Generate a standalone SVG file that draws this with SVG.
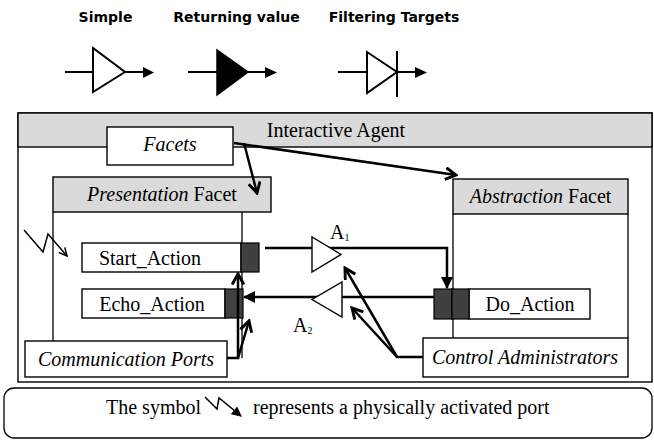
<svg xmlns="http://www.w3.org/2000/svg" width="654" height="441" viewBox="0 0 654 441">
<style>
.t{font-family:"Liberation Serif","Times New Roman",serif;font-size:20px;fill:#000}
.i{font-style:italic}
.h{font-family:"DejaVu Sans",Verdana,sans-serif;font-weight:bold;font-size:14px;fill:#000}
.box{fill:#fff;stroke:#000;stroke-width:1.4}
.hdr{fill:#dadada;stroke:#000;stroke-width:1.4}
.port{fill:#404040;stroke:#000;stroke-width:1.2}
.ln{stroke:#000;stroke-width:1.3;fill:none}
.c{stroke:#000;stroke-width:2.5;fill:none}
.sym{stroke:#000;stroke-width:2;fill:none}
</style>
<defs>
<marker id="open" markerUnits="userSpaceOnUse" markerWidth="14" markerHeight="14" viewBox="0 0 12 12" refX="10" refY="6" orient="auto"><path d="M1,1 L10,6 L1,11" fill="none" stroke="#000" stroke-width="2.5"/></marker>
<marker id="fill" markerUnits="userSpaceOnUse" markerWidth="12" markerHeight="12" viewBox="0 0 12 12" refX="11" refY="6" orient="auto"><path d="M0,0 L12,6 L0,12 z" fill="#000"/></marker>
<marker id="thin" markerUnits="userSpaceOnUse" markerWidth="10" markerHeight="10" viewBox="0 0 10 10" refX="9" refY="5" orient="auto"><path d="M1,1 L9,5 L1,9" fill="none" stroke="#000" stroke-width="1.5"/></marker>
<marker id="thinfill" markerUnits="userSpaceOnUse" markerWidth="10" markerHeight="10" viewBox="0 0 10 10" refX="9" refY="5" orient="auto"><path d="M0,0 L10,5 L0,10 z" fill="#000"/></marker>
</defs>

<g id="legend-top">
<text class="h" x="105.5" y="22" text-anchor="middle">Simple</text>
<text class="h" x="236.5" y="22" text-anchor="middle">Returning value</text>
<text class="h" x="394" y="22" text-anchor="middle">Filtering Targets</text>
<g id="sym-simple">
<line class="sym" x1="65" y1="72" x2="93" y2="72"/>
<polygon points="93,48 93,92 125,72" fill="#fff" stroke="#000" stroke-width="2"/>
<line class="sym" x1="125" y1="72" x2="144" y2="72"/>
<polygon points="143,67 154,72.5 143,78" fill="#000"/>
</g>
<g id="sym-returning">
<line class="sym" x1="188" y1="72" x2="217" y2="72"/>
<polygon points="217,50 217,95 248,72" fill="#000" stroke="#000" stroke-width="1.5"/>
<line class="sym" x1="248" y1="72" x2="266" y2="72"/>
<polygon points="265,67 277,72.5 265,78" fill="#000"/>
</g>
<g id="sym-filtering">
<line class="sym" x1="338" y1="72" x2="367" y2="72"/>
<polygon points="367,52 367,93 397,72" fill="#fff" stroke="#000" stroke-width="2"/>
<line class="sym" x1="397" y1="51" x2="397" y2="97"/>
<line class="sym" x1="397" y1="72" x2="416" y2="72"/>
<polygon points="415,67 427,72.5 415,78" fill="#000"/>
</g>
</g>

<g id="interactive-agent">
<rect class="box" x="18" y="113" width="634" height="269"/>
<rect class="hdr" x="18" y="113" width="634" height="34"/>
<text class="t" x="336" y="137" text-anchor="middle">Interactive Agent</text>
</g>

<g id="presentation-facet">
<rect class="hdr" x="53" y="177" width="218" height="35"/>
<text class="t" x="162" y="201" text-anchor="middle"><tspan class="i">Presentation</tspan> Facet</text>
<line class="ln" x1="53" y1="212" x2="53" y2="341"/>
<line class="ln" x1="242" y1="212" x2="242" y2="358"/>
</g>

<g id="abstraction-facet">
<rect class="hdr" x="453" y="179" width="175" height="35"/>
<text class="t" x="540.5" y="203" text-anchor="middle"><tspan class="i">Abstraction</tspan> Facet</text>
<line class="ln" x1="453" y1="214" x2="453" y2="338"/>
<line class="ln" x1="628" y1="214" x2="628" y2="338"/>
</g>

<g id="facets">
<rect class="box" x="107" y="127" width="126" height="38"/>
<text class="t i" x="170" y="151" text-anchor="middle">Facets</text>
</g>

<g id="start-action">
<rect class="box" x="82" y="243" width="159" height="29"/>
<text class="t" x="150" y="265" text-anchor="middle">Start_Action</text>
<rect class="port" x="241" y="243" width="18" height="29"/>
</g>

<g id="echo-action">
<rect class="box" x="82" y="289" width="143" height="29"/>
<text class="t" x="152" y="311" text-anchor="middle">Echo_Action</text>
<rect class="port" x="225" y="289" width="18" height="29"/>
</g>

<g id="do-action">
<rect class="box" x="469" y="289" width="121" height="30"/>
<text class="t" x="530" y="311" text-anchor="middle">Do_Action</text>
<rect class="port" x="434" y="289" width="18" height="30"/>
<rect class="port" x="452" y="289" width="17" height="30"/>
</g>

<g id="communication-ports">
<rect class="box" x="25" y="341" width="202" height="36"/>
<text class="t i" x="126" y="366" text-anchor="middle">Communication Ports</text>
</g>

<g id="control-administrators">
<rect class="box" x="423" y="338" width="205" height="39"/>
<text class="t i" x="525" y="364" text-anchor="middle">Control Administrators</text>
</g>

<g id="connectors">
<path class="c" d="M234,143 L456,175" marker-end="url(#open)"/>
<path class="c" d="M244,143 L257,193" marker-end="url(#open)"/>
<path class="c" d="M265,248 L447,248 L447,288" marker-end="url(#fill)"/>
<polygon points="312,237 312,272 341,254.5" fill="#fff" stroke="#000" stroke-width="1.4"/>
<text class="t" x="330" y="239" font-size="14">A<tspan font-size="10" dy="2">1</tspan></text>
<path class="c" d="M434,297 L244,297" marker-end="url(#fill)"/>
<polygon points="342,282 342,317 312,299.5" fill="#fff" stroke="#000" stroke-width="1.4"/>
<text class="t" x="293" y="332" font-size="14">A<tspan font-size="10" dy="2">2</tspan></text>
<path class="c" d="M423,357 L397,357 L345,268" marker-end="url(#open)"/>
<path class="c" d="M397,357 L352,308" marker-end="url(#open)"/>
<path class="c" d="M227,358 L238,358 L238,274" marker-end="url(#open)"/>
<path class="c" d="M238,358 L249,321" marker-end="url(#open)"/>
<path d="M24,230 L43,252 L48,234 L67,256" fill="none" stroke="#000" stroke-width="1.5" marker-end="url(#thin)"/>
</g>

<g id="note">
<rect x="4" y="388" width="648" height="50" rx="10" ry="10" fill="#fff" stroke="#000" stroke-width="1.3"/>
<text class="t" x="106" y="414">The symbol</text>
<path d="M205,397 L217,409 L219,398 L241,416" fill="none" stroke="#000" stroke-width="1.5" marker-end="url(#thinfill)"/>
<text class="t" x="253" y="414">represents a physically activated port</text>
</g>
</svg>
